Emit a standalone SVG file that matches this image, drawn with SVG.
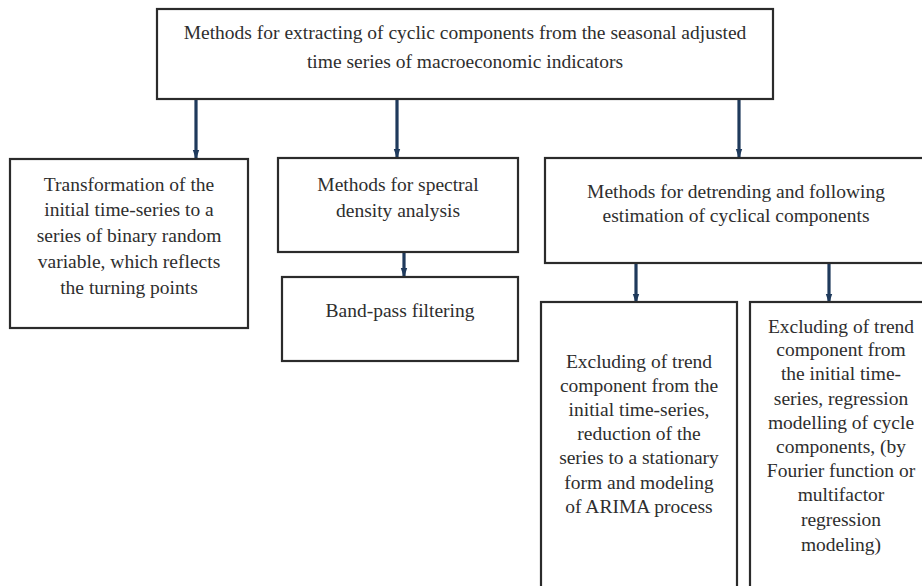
<svg xmlns="http://www.w3.org/2000/svg" width="922" height="586" viewBox="0 0 922 586">
<style>
.box{fill:#fff;stroke:#2b2b2b;stroke-width:2.2}
.t{font-family:"Liberation Serif","Times New Roman",serif;font-size:19.5px;fill:#2e2e2e;text-anchor:middle}
.c{stroke:#1f3a5c;stroke-width:3.2;fill:none;marker-end:url(#ah)}
</style>
<defs>
<marker id="ah" viewBox="0 0 6 4" refX="5" refY="2" markerWidth="3" markerHeight="2.2" orient="auto" markerUnits="strokeWidth">
<path d="M0,0 L6,2 L0,4 z" fill="#1f3a5c"/>
</marker>
</defs>
<rect width="922" height="586" fill="#fff"/>
<g id="connectors">
<line class="c" x1="196" y1="100" x2="196" y2="158"/>
<line class="c" x1="397" y1="100" x2="397" y2="157"/>
<line class="c" x1="739" y1="100" x2="739" y2="157"/>
<line class="c" x1="404" y1="253" x2="404" y2="276"/>
<line class="c" x1="636" y1="264" x2="636" y2="302"/>
<line class="c" x1="829" y1="264" x2="829" y2="302"/>
</g>
<g id="top">
<rect class="box" x="157" y="9" width="616" height="90"/>
<text class="t" x="465" y="39">Methods for extracting of cyclic components from the seasonal adjusted</text>
<text class="t" x="465" y="68">time series of macroeconomic indicators</text>
</g>
<g id="transformation">
<rect class="box" x="10" y="159" width="238" height="169"/>
<text class="t" x="129" y="191">Transformation of the</text>
<text class="t" x="129" y="216">initial time-series to a</text>
<text class="t" x="129" y="242">series of binary random</text>
<text class="t" x="129" y="268">variable, which reflects</text>
<text class="t" x="129" y="294">the turning points</text>
</g>
<g id="spectral">
<rect class="box" x="278" y="158" width="240" height="94"/>
<text class="t" x="398" y="191">Methods for spectral</text>
<text class="t" x="398" y="217">density analysis</text>
</g>
<g id="bandpass">
<rect class="box" x="282" y="277" width="236" height="84"/>
<text class="t" x="400" y="317">Band-pass filtering</text>
</g>
<g id="detrending">
<rect class="box" x="545" y="158" width="390" height="105"/>
<text class="t" x="736" y="198">Methods for detrending  and following</text>
<text class="t" x="736" y="222">estimation of cyclical components</text>
</g>
<g id="arima">
<rect class="box" x="541" y="302" width="196" height="300"/>
<text class="t" x="639" y="368">Excluding of trend</text>
<text class="t" x="639" y="392">component from the</text>
<text class="t" x="639" y="416">initial time-series,</text>
<text class="t" x="639" y="440">reduction of the</text>
<text class="t" x="639" y="464">series to a stationary</text>
<text class="t" x="639" y="489">form and modeling</text>
<text class="t" x="639" y="513">of ARIMA process</text>
</g>
<g id="regression">
<rect class="box" x="750" y="302" width="200" height="300"/>
<text class="t" x="841" y="333">Excluding of trend</text>
<text class="t" x="841" y="356">component from</text>
<text class="t" x="841" y="380">the initial time-</text>
<text class="t" x="841" y="405">series, regression</text>
<text class="t" x="841" y="429">modelling of cycle</text>
<text class="t" x="841" y="453">components, (by</text>
<text class="t" x="841" y="477">Fourier function or</text>
<text class="t" x="841" y="501">multifactor</text>
<text class="t" x="841" y="526">regression</text>
<text class="t" x="841" y="551">modeling)</text>
</g>
</svg>
